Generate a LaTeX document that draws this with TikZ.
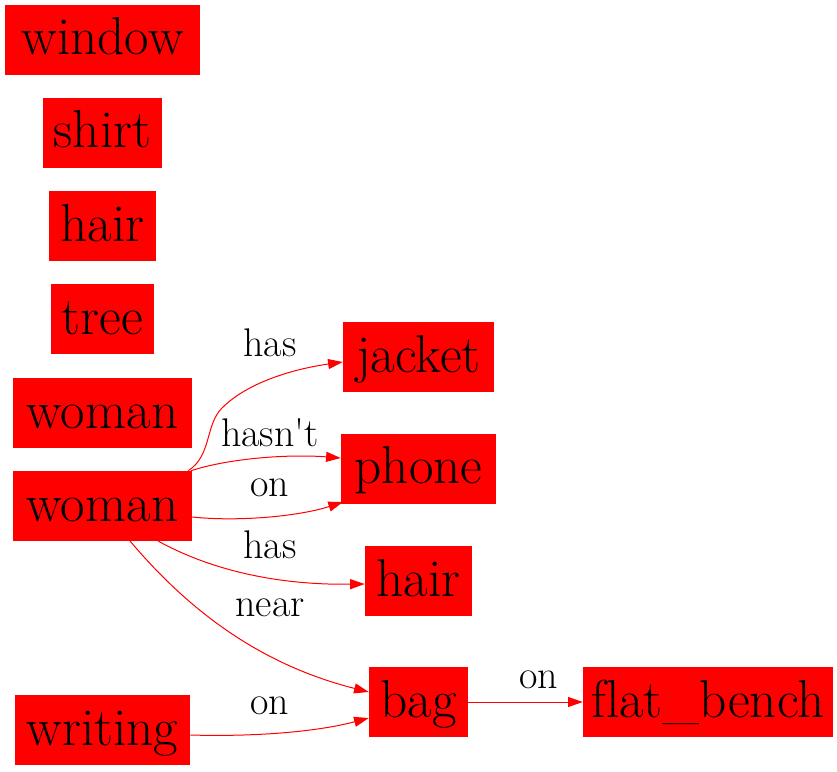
\documentclass[tikz,border=0pt]{standalone}
\usetikzlibrary{arrows.meta}
\begin{document}
\begin{tikzpicture}[x=0.75pt,y=-0.75pt,
 box/.style={fill=red,inner sep=0pt,minimum height=52.5pt,text height=28pt,text depth=5.5pt,font=\fontsize{40}{48}\selectfont},
 lbl/.style={inner sep=0pt,font=\fontsize{30}{36}\selectfont},
 edge/.style={draw=red,line width=0.75pt,-{Triangle[length=11pt,width=7.5pt]}}]
\useasboundingbox (0,0) rectangle (837,771);
% nodes
\node[box,minimum width=146.25pt] (window) at (102.5,39.5) {window};
\node[box,minimum width=89.25pt] (shirt) at (102.5,132.5) {shirt};
\node[box,minimum width=80.25pt] (hairA) at (102.5,226) {hair};
\node[box,minimum width=77.25pt] (tree) at (102.5,319) {tree};
\node[box,minimum width=134.25pt] (womanA) at (102.5,413) {woman};
\node[box,minimum width=134.25pt] (womanB) at (102.5,506) {woman};
\node[box,minimum width=131.25pt] (writing) at (102.5,730) {writing};
\node[box,minimum width=113.25pt] (jacket) at (418.5,357) {jacket};
\node[box,minimum width=116.25pt] (phone) at (418.5,468.5) {phone};
\node[box,minimum width=80.25pt] (hairB) at (418.5,581) {hair};
\node[box,minimum width=74.25pt] (bag) at (418.5,702) {bag};
\node[box,minimum width=187.5pt] (bench) at (708,702) {f\kern0pt lat\_bench};
% edges
\draw[edge] ([xshift=-3pt]womanB.north east) .. controls (212,455) and (205,425) .. (222,408)
  .. controls (250,380) and (300,368) .. (jacket.west |- 0,362);
\draw[edge] ([xshift=-1pt]womanB.north east) .. controls (230,458) and (290,454) .. (phone.west |- 0,458);
\draw[edge] (womanB.east |- 0,517) .. controls (240,522) and (300,516) .. (343,502);
\draw[edge] (158,541) .. controls (220,575) and (290,585) .. (hairB.west |- 0,584);
\draw[edge] (130,541) .. controls (180,600) and (250,662) .. (bag.west |- 0,692);
\draw[edge] (writing.east |- 0,735) .. controls (260,737) and (320,731) .. (bag.west |- 0,718);
\draw[edge] (bag.east) -- (bench.west);
% labels
\node[lbl] (l1) at (270,343) {has};
\node[lbl] (l2) at (270,433) {hasn\textquotesingle t};
\node[lbl] (l3) at (270,488) {on};
\node[lbl] (l4) at (270,545) {has};
\node[lbl] (l5) at (270,608) {near};
\node[lbl] (l6) at (270,706) {on};
\node[lbl] (l7) at (539,680) {on};
\end{tikzpicture}
\end{document}
